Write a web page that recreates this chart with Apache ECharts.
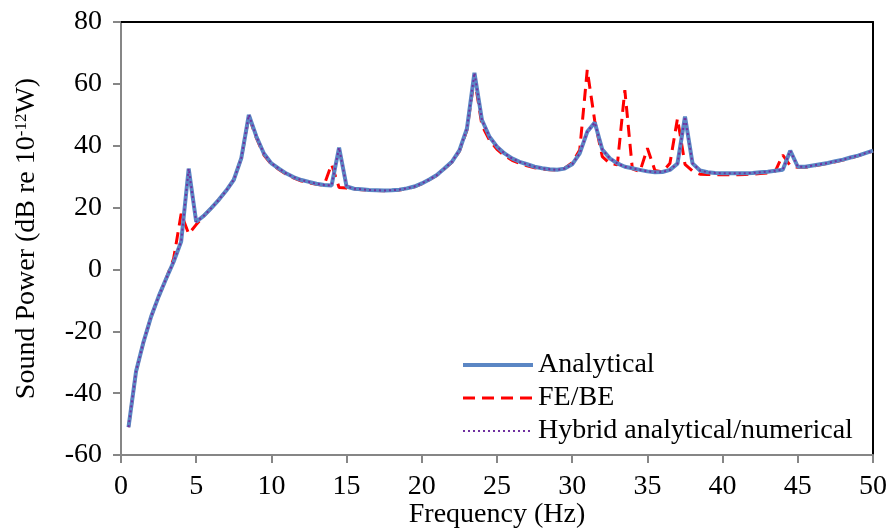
<!DOCTYPE html>
<html>
<head>
<meta charset="utf-8">
<script src="https://cdn.jsdelivr.net/npm/echarts@6/dist/echarts.min.js"></script>
<style>
  html, body { margin: 0; padding: 0; background: #fff; }
  #chart { width: 892px; height: 528px; }
</style>
</head>
<body>
<div id="chart"></div>
<script>
const freqs = [
  0.5, 1, 1.5, 2, 2.5, 3, 3.5, 4, 4.5, 5,
  5.5, 6, 6.5, 7, 7.5, 8, 8.5, 9, 9.5, 10,
  10.5, 11, 11.5, 12, 12.5, 13, 13.5, 14, 14.5, 15,
  15.5, 16, 16.5, 17, 17.5, 18, 18.5, 19, 19.5, 20,
  20.5, 21, 21.5, 22, 22.5, 23, 23.5, 24, 24.5, 25,
  25.5, 26, 26.5, 27, 27.5, 28, 28.5, 29, 29.5, 30,
  30.5, 31, 31.5, 32, 32.5, 33, 33.5, 34, 34.5, 35,
  35.5, 36, 36.5, 37, 37.5, 38, 38.5, 39, 39.5, 40,
  40.5, 41, 41.5, 42, 42.5, 43, 43.5, 44, 44.5, 45,
  45.5, 46, 46.5, 47, 47.5, 48, 48.5, 49, 49.5, 50
];

const analytical = [
  -51, -33, -23.4, -15.3, -8.8, -3, 2.5, 9, 32.6, 15.4,
  17.3, 19.8, 22.5, 25.5, 29, 36, 50, 43, 37.5, 34.3,
  32.6, 31, 29.8, 28.9, 28.3, 27.7, 27.3, 27.1, 39.4, 26.8,
  26.1, 25.9, 25.7, 25.6, 25.5, 25.6, 25.8, 26.2, 26.8, 27.8,
  29.1, 30.5, 32.6, 34.8, 38.5, 45.5, 63.6, 48.3, 42.9, 39.7,
  37.5, 35.9, 34.8, 34, 33.2, 32.7, 32.4, 32.2, 32.6, 34,
  37.5, 44.5, 47.5, 38.8, 35.9, 34.3, 33.2, 32.7, 32.2, 31.7,
  31.4, 31.5, 32.2, 34.2, 49.4, 34.3, 32, 31.4, 31.2, 31.1,
  31.1, 31.1, 31.1, 31.2, 31.4, 31.6, 31.9, 32.2, 38.4, 33.2,
  33.2, 33.6, 34, 34.4, 35, 35.5, 36.2, 36.8, 37.6, 38.4
];

const feBe = [
  -51, -33, -23.4, -15.3, -8.8, -3, 3.5, 18, 11.5, 14.5,
  17.3, 19.8, 22.5, 25.5, 29, 36, 49.5, 42.5, 37, 34,
  32.3, 30.7, 29.5, 28.6, 28, 27.5, 27.2, 34, 26.5, 26.3,
  26, 25.8, 25.6, 25.5, 25.4, 25.5, 25.7, 26.1, 26.7, 27.7,
  29, 30.4, 32.5, 34.6, 38.2, 45, 62, 46.5, 41.8, 38.8,
  36.8, 35.3, 34.3, 33.5, 32.9, 32.4, 32.2, 32.1, 32.7, 34.5,
  38.6, 64.5, 48, 36.5, 34.3, 33.8, 58, 32.5, 31.6, 39.2,
  32, 31.5, 34.3, 48.8, 34, 31.8, 30.8, 30.7, 30.6, 30.6,
  30.6, 30.6, 30.7, 30.8, 31, 31.2, 31.7, 37, 33.5, 33,
  33, 33.4, 33.8, 34.3, 34.8, 35.4, 36, 36.7, 37.5, 38.3
];

const hybrid = [
  -51, -33, -23.4, -15.3, -8.8, -3, 2.5, 9, 32.6, 15.4,
  17.3, 19.8, 22.5, 25.5, 29, 36, 50, 43, 37.5, 34.3,
  32.6, 31, 29.8, 28.9, 28.3, 27.7, 27.3, 27.1, 39.4, 26.8,
  26.1, 25.9, 25.7, 25.6, 25.5, 25.6, 25.8, 26.2, 26.8, 27.8,
  29.1, 30.5, 32.6, 34.8, 38.5, 45.5, 63.6, 48.3, 42.9, 39.7,
  37.5, 35.9, 34.8, 34, 33.2, 32.7, 32.4, 32.2, 32.6, 34,
  37.5, 44.5, 47.5, 38.8, 35.9, 34.3, 33.2, 32.7, 32.2, 31.7,
  31.4, 31.5, 32.2, 34.2, 49.4, 34.3, 32, 31.4, 31.2, 31.1,
  31.1, 31.1, 31.1, 31.2, 31.4, 31.6, 31.9, 32.2, 38.4, 33.2,
  33.2, 33.6, 34, 34.4, 35, 35.5, 36.2, 36.8, 37.6, 38.4
];

const seriesNames = ["Analytical", "FE/BE", "Hybrid analytical/numerical"];

const font = "'Liberation Serif', 'Times New Roman', serif";
const axisGray = "#868686";

const pairs = (ys) => freqs.map((f, i) => [f, ys[i]]);

const chart = echarts.init(document.getElementById("chart"));

const options = {
  animation: false,
  backgroundColor: "#fff",
  grid: {
    left: 121,
    right: 19,
    top: 22,
    bottom: 73,
    outerBoundsMode: "none",
  },
  legend: {
    data: seriesNames,
    orient: "vertical",
    left: 456,
    top: 346,
    itemWidth: 70,
    itemHeight: 20,
    itemGap: 5,
    itemStyle: { opacity: 0 },
    lineStyle: { width: "inherit" },
    textStyle: {
      fontFamily: font,
      fontSize: 28,
      color: "#000",
    },
  },
  xAxis: [
    {
      type: "value",
      min: 0,
      max: 50,
      interval: 5,
      name: "Frequency (Hz)",
      nameLocation: "middle",
      nameGap: 46,
      nameMoveOverlap: false,
      nameTextStyle: {
        fontFamily: font,
        fontSize: 28,
        color: "#000",
      },
      axisLine: { onZero: false, lineStyle: { color: axisGray, width: 2 } },
      axisTick: { show: true, length: 8, lineStyle: { color: axisGray, width: 2 } },
      axisLabel: {
        margin: 18,
        fontFamily: font,
        fontSize: 28,
        color: "#000",
      },
      splitLine: { show: false },
    },
    {
      type: "value",
      position: "top",
      min: 0,
      max: 50,
      axisLine: { show: true, onZero: false, lineStyle: { color: "#000", width: 2 } },
      axisTick: { show: false },
      axisLabel: { show: false },
      splitLine: { show: false },
    },
  ],
  yAxis: [
    {
      type: "value",
      min: -60,
      max: 80,
      interval: 20,
      name: "{t|Sound Power (dB re 10}{s|-12}{t|W)}",
      nameLocation: "middle",
      nameGap: 80,
      nameMoveOverlap: false,
      nameTextStyle: {
        rich: {
          t: { fontFamily: font, fontSize: 28, color: "#000", verticalAlign: "bottom" },
          s: { fontFamily: font, fontSize: 17, color: "#000", verticalAlign: "bottom", padding: [0, 0, 11, 0] },
        },
      },
      axisLine: { show: true, onZero: false, lineStyle: { color: axisGray, width: 2 } },
      axisTick: { show: true, length: 8, lineStyle: { color: axisGray, width: 2 } },
      axisLabel: {
        margin: 19,
        fontFamily: font,
        fontSize: 28,
        color: "#000",
      },
      splitLine: { show: false },
    },
    {
      type: "value",
      position: "right",
      min: -60,
      max: 80,
      interval: 20,
      axisLine: { show: true, onZero: false, lineStyle: { color: "#000", width: 2 } },
      axisTick: { show: false },
      axisLabel: { show: false },
      splitLine: { show: false },
    },
  ],
  series: [
    {
      name: seriesNames[0],
      type: "line",
      data: pairs(analytical),
      showSymbol: false,
      symbol: "none",
      z: 3,
      lineStyle: { color: "#5b86c4", width: 4 },
      itemStyle: { color: "#5b86c4" },
    },
    {
      name: seriesNames[1],
      type: "line",
      data: pairs(feBe),
      showSymbol: false,
      symbol: "none",
      z: 2,
      lineStyle: { color: "#ff0000", width: 3, type: [12, 7] },
      itemStyle: { color: "#ff0000" },
    },
    {
      name: seriesNames[2],
      type: "line",
      data: pairs(hybrid),
      showSymbol: false,
      symbol: "none",
      z: 4,
      lineStyle: { color: "#7030a0", width: 2, type: [2, 3] },
      itemStyle: { color: "#7030a0" },
    },
  ],
};

chart.setOption(options);
</script>
</body>
</html>
